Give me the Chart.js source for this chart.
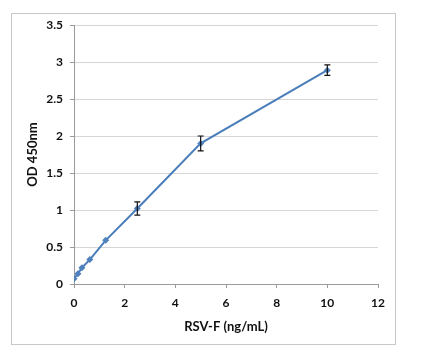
<!DOCTYPE html>
<html>
<head>
<meta charset="utf-8">
<script src="https://cdn.jsdelivr.net/npm/chart.js"></script>
<style>
  html, body { margin: 0; padding: 0; background: #fff; }
  #wrap { position: relative; width: 421px; height: 353px; }
</style>
</head>
<body>
<div id="wrap"><canvas id="chart" width="421" height="353"></canvas></div>
<script>
// RSV-F standard curve values
const concentrations = [0, 0.156, 0.3125, 0.625, 1.25, 2.5, 5, 10];
const odValues = [0.07, 0.14, 0.22, 0.33, 0.59, 1.02, 1.90, 2.89];
const odErrors = [0, 0, 0, 0, 0, 0.09, 0.10, 0.07];
const xTicks = [0, 2, 4, 6, 8, 10, 12];
const yTicks = [0, 0.5, 1, 1.5, 2, 2.5, 3, 3.5];

const FONT = 'Lato, "Open Sans", sans-serif';

// Outer frame round the whole chart
const framePlugin = {
  id: 'frame',
  beforeDraw: function(chart) {
    const ctx = chart.ctx;
    ctx.save();
    ctx.fillStyle = '#fff';
    ctx.fillRect(0, 0, chart.width, chart.height);
    ctx.strokeStyle = '#c8c8c8';
    ctx.lineWidth = 1;
    ctx.strokeRect(11.5, 13.5, 384, 331);
    ctx.restore();
  }
};

// Vertical error bars with caps
const errorBarPlugin = {
  id: 'errorBars',
  afterDatasetsDraw: function(chart) {
    const ctx = chart.ctx;
    const xs = chart.scales.x;
    const ys = chart.scales.y;
    ctx.save();
    ctx.strokeStyle = '#111';
    ctx.lineWidth = 1.2;
    odErrors.forEach(function(err, i) {
      if (!err) return;
      const px = xs.getPixelForValue(concentrations[i]);
      const top = ys.getPixelForValue(odValues[i] + err);
      const bot = ys.getPixelForValue(odValues[i] - err);
      ctx.beginPath();
      ctx.moveTo(px, top); ctx.lineTo(px, bot);
      ctx.moveTo(px - 3, top); ctx.lineTo(px + 3, top);
      ctx.moveTo(px - 3, bot); ctx.lineTo(px + 3, bot);
      ctx.stroke();
    });
    ctx.restore();
  }
};

new Chart(document.getElementById('chart'), {
  type: 'scatter',
  data: {
    datasets: [{
      data: concentrations.map(function(c, i) { return { x: c, y: odValues[i] }; }),
      showLine: true,
      borderColor: '#4A7EBB',
      borderWidth: 2,
      backgroundColor: '#4F81BD',
      pointStyle: 'rectRot',
      pointRadius: 3.5,
      pointBorderWidth: 0,
      tension: 0
    }]
  },
  options: {
    responsive: false,
    animation: false,
    events: [],
    layout: { padding: { top: 25, right: 43, bottom: 18, left: 25 } },
    plugins: {
      legend: { display: false },
      tooltip: { enabled: false }
    },
    scales: {
      x: {
        type: 'linear',
        min: 0,
        max: 12,
        afterFit: function(scale) { scale.height = 51; },
        afterBuildTicks: function(scale) {
          scale.ticks = xTicks.map(function(v) { return { value: v }; });
        },
        border: { color: '#9a9a9a', width: 1 },
        grid: {
          drawOnChartArea: false,
          drawTicks: true,
          tickLength: 4,
          tickColor: '#9a9a9a'
        },
        ticks: {
          color: '#111',
          padding: 8,
          font: { family: FONT, size: 12, weight: 'bold' },
          callback: function(v) { return String(v); }
        },
        title: {
          display: true,
          text: 'RSV-F (ng/mL)',
          color: '#111',
          padding: { top: 0, bottom: 0 },
          font: { family: FONT, size: 13, weight: 'bold' }
        }
      },
      y: {
        min: 0,
        max: 3.5,
        afterFit: function(scale) { scale.width = 49; },
        afterBuildTicks: function(scale) {
          scale.ticks = yTicks.map(function(v) { return { value: v }; });
        },
        border: { color: '#9a9a9a', width: 1 },
        grid: {
          color: '#d6d6d6',
          drawTicks: true,
          tickLength: 4,
          tickColor: '#9a9a9a'
        },
        ticks: {
          color: '#111',
          padding: 7,
          font: { family: FONT, size: 12, weight: 'bold' },
          callback: function(v) { return String(v); }
        },
        title: {
          display: true,
          text: 'OD 450nm',
          color: '#111',
          padding: { top: 0, bottom: 0 },
          font: { family: FONT, size: 13, weight: 'bold' }
        }
      }
    }
  },
  plugins: [framePlugin, errorBarPlugin]
});
</script>
</body>
</html>
